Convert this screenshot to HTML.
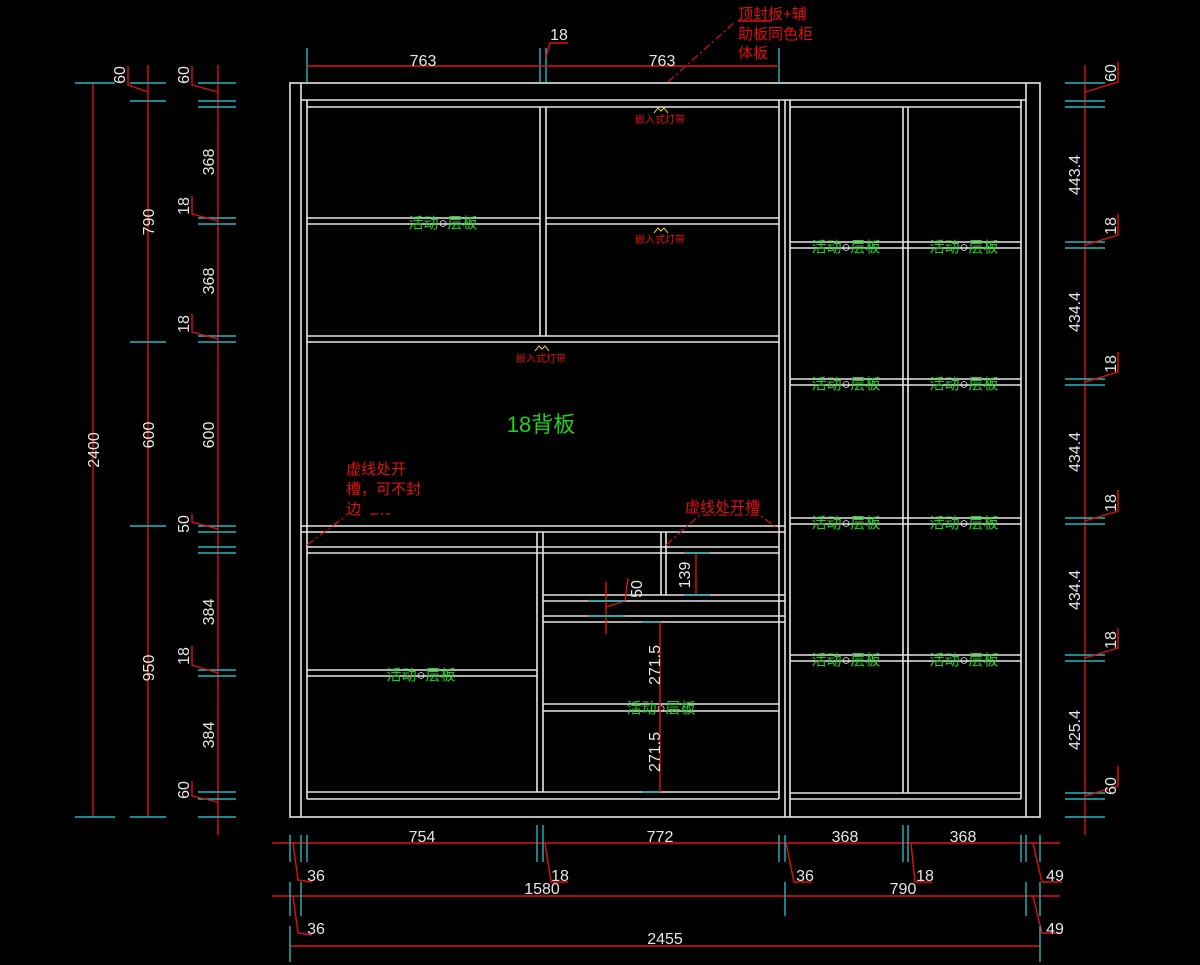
<!DOCTYPE html>
<html><head><meta charset="utf-8"><style>
html,body{margin:0;padding:0;background:#000;width:1200px;height:965px;overflow:hidden}
svg{display:block}
.c{stroke:#e6e6e6;stroke-width:1.6;fill:none}
.r{stroke:#e01010;stroke-width:1.4;fill:none}
.cy{stroke:#20b8c0;stroke-width:1.4}
.d{stroke:#e01010;stroke-width:1.2;stroke-dasharray:8 3 2 3;fill:none}
text{font-family:"Liberation Sans","Noto Sans CJK SC",sans-serif}
.t{fill:#e6e6e6;font-size:16px}
.g{fill:#20d020;font-size:15px}
.rd{fill:#e01010;font-size:15px}
.sm{fill:#e01010;font-size:10px}
</style></head><body>
<svg width="1200" height="965" viewBox="0 0 1200 965" xmlns="http://www.w3.org/2000/svg">
<!-- cabinet -->
<g class="c">
<rect x="290" y="83" width="750" height="734"/>
<line x1="301" y1="83" x2="301" y2="817"/>
<line x1="1026" y1="83" x2="1026" y2="817"/>
<line x1="301" y1="100" x2="1026" y2="100"/>
<line x1="307" y1="107" x2="779" y2="107"/>
<line x1="790" y1="107" x2="1021" y2="107"/>
<line x1="307" y1="100" x2="307" y2="799"/>
<line x1="779" y1="100" x2="779" y2="799"/>
<line x1="785" y1="100" x2="785" y2="817"/>
<line x1="790" y1="100" x2="790" y2="817"/>
<line x1="1021" y1="100" x2="1021" y2="799"/>
<line x1="540" y1="107" x2="540" y2="336"/>
<line x1="546" y1="107" x2="546" y2="336"/>
<line x1="903" y1="107" x2="903" y2="793"/>
<line x1="908" y1="107" x2="908" y2="793"/>
<line x1="307" y1="218" x2="540" y2="218"/><line x1="307" y1="224" x2="540" y2="224"/>
<line x1="546" y1="218" x2="779" y2="218"/><line x1="546" y1="224" x2="779" y2="224"/>
<line x1="307" y1="336" x2="779" y2="336"/><line x1="307" y1="342" x2="779" y2="342"/>
<line x1="301" y1="526" x2="785" y2="526"/><line x1="301" y1="532" x2="785" y2="532"/>
<line x1="307" y1="547" x2="779" y2="547"/><line x1="307" y1="553" x2="779" y2="553"/>
<line x1="537" y1="532" x2="537" y2="792"/><line x1="543" y1="532" x2="543" y2="792"/>
<line x1="661" y1="532" x2="661" y2="595"/><line x1="666" y1="532" x2="666" y2="595"/>
<line x1="543" y1="595" x2="785" y2="595"/><line x1="543" y1="601" x2="785" y2="601"/>
<line x1="543" y1="616" x2="785" y2="616"/><line x1="543" y1="622" x2="785" y2="622"/>
<line x1="307" y1="670" x2="537" y2="670"/><line x1="307" y1="676" x2="537" y2="676"/>
<line x1="543" y1="704" x2="779" y2="704"/><line x1="543" y1="711" x2="779" y2="711"/>
<line x1="307" y1="792" x2="779" y2="792"/><line x1="307" y1="799" x2="779" y2="799"/>
<line x1="790" y1="793" x2="1021" y2="793"/><line x1="790" y1="799" x2="1021" y2="799"/>
<line x1="790" y1="242" x2="1021" y2="242"/><line x1="790" y1="248" x2="1021" y2="248"/>
<line x1="790" y1="379" x2="1021" y2="379"/><line x1="790" y1="385" x2="1021" y2="385"/>
<line x1="790" y1="518" x2="1021" y2="518"/><line x1="790" y1="524" x2="1021" y2="524"/>
<line x1="790" y1="655" x2="1021" y2="655"/><line x1="790" y1="661" x2="1021" y2="661"/>
</g>
<!-- labels inside -->
<g class="g">
<text x="443" y="228" text-anchor="middle">活动<tspan fill="#fff">○</tspan>层板</text>
<text x="846" y="252" text-anchor="middle">活动<tspan fill="#fff">○</tspan>层板</text>
<text x="964" y="252" text-anchor="middle">活动<tspan fill="#fff">○</tspan>层板</text>
<text x="846" y="389" text-anchor="middle">活动<tspan fill="#fff">○</tspan>层板</text>
<text x="964" y="389" text-anchor="middle">活动<tspan fill="#fff">○</tspan>层板</text>
<text x="846" y="528" text-anchor="middle">活动<tspan fill="#fff">○</tspan>层板</text>
<text x="964" y="528" text-anchor="middle">活动<tspan fill="#fff">○</tspan>层板</text>
<text x="846" y="665" text-anchor="middle">活动<tspan fill="#fff">○</tspan>层板</text>
<text x="964" y="665" text-anchor="middle">活动<tspan fill="#fff">○</tspan>层板</text>
<text x="421" y="680" text-anchor="middle">活动<tspan fill="#fff">○</tspan>层板</text>
<text x="661" y="713" text-anchor="middle">活动<tspan fill="#fff">○</tspan>层板</text>
<text x="541" y="432" text-anchor="middle" font-size="22">18背板</text>
</g>
<g class="sm" text-anchor="middle">
<text x="660" y="123">嵌入式灯带</text>
<text x="660" y="243">嵌入式灯带</text>
<text x="541" y="362">嵌入式灯带</text>
</g>
<g stroke="#f0e020" stroke-width="1" fill="none">
<path d="M654 113 l4-5 l3 3 l3-3 l4 5"/>
<path d="M654 233 l4-5 l3 3 l3-3 l4 5"/>
<path d="M535 351 l4-5 l3 3 l3-3 l4 5"/>
</g>
<!-- red annotations -->
<g class="rd">
<text x="346" y="474">虚线处开</text>
<text x="346" y="494">槽，可不封</text>
<text x="346" y="514">边</text>
<text x="685" y="512">虚线处开槽</text>
<text x="738" y="19">顶封板+辅</text>
<text x="738" y="39">助板同色柜</text>
<text x="738" y="58">体板</text>
</g>
<g class="d">
<path d="M307 545 L346 516 M370 514 L390 514"/>
<path d="M666 545 L700 515 L760 515 L779 530"/>
<path d="M668 82 L735 22"/>
</g>
<line x1="738" y1="21" x2="772" y2="21" class="r"/>
<!-- top dims -->
<g class="cy">
<line x1="307" y1="48" x2="307" y2="82"/><line x1="540" y1="48" x2="540" y2="82"/>
<line x1="546" y1="48" x2="546" y2="82"/><line x1="779" y1="48" x2="779" y2="82"/>
</g>
<line x1="307" y1="66" x2="779" y2="66" class="r"/>
<path d="M546 57 L550 43 L568 43" class="r"/>
<g class="t" text-anchor="middle">
<text x="423" y="66">763</text><text x="662" y="66">763</text><text x="559" y="40">18</text>
</g>
<!-- left dims -->
<g class="r">
<line x1="93" y1="83" x2="93" y2="817"/>
<line x1="148" y1="65" x2="148" y2="817"/>
<line x1="218" y1="65" x2="218" y2="835"/>
</g>
<g class="cy">
<line x1="75" y1="83" x2="115" y2="83"/><line x1="75" y1="817" x2="115" y2="817"/>
<line x1="130" y1="83" x2="166" y2="83"/><line x1="130" y1="101" x2="166" y2="101"/>
<line x1="130" y1="342" x2="166" y2="342"/><line x1="130" y1="526" x2="166" y2="526"/>
<line x1="130" y1="817" x2="166" y2="817"/>
<line x1="198" y1="83" x2="236" y2="83"/><line x1="198" y1="101" x2="236" y2="101"/><line x1="198" y1="107" x2="236" y2="107"/>
<line x1="198" y1="218" x2="236" y2="218"/><line x1="198" y1="224" x2="236" y2="224"/>
<line x1="198" y1="336" x2="236" y2="336"/><line x1="198" y1="342" x2="236" y2="342"/>
<line x1="198" y1="526" x2="236" y2="526"/><line x1="198" y1="532" x2="236" y2="532"/>
<line x1="198" y1="547" x2="236" y2="547"/><line x1="198" y1="553" x2="236" y2="553"/>
<line x1="198" y1="670" x2="236" y2="670"/><line x1="198" y1="676" x2="236" y2="676"/>
<line x1="198" y1="792" x2="236" y2="792"/><line x1="198" y1="799" x2="236" y2="799"/>
<line x1="198" y1="817" x2="236" y2="817"/>
</g>
<g class="r">
<path d="M148 92 L128 85 L128 66"/><path d="M218 92 L192 85 L192 66"/>
<path d="M218 221 L192 214 L192 196"/><path d="M218 339 L192 332 L192 314"/>
<path d="M218 529 L192 522 L192 514"/><path d="M218 673 L192 665 L192 646"/>
<path d="M218 802 L192 796 L192 781"/>
</g>
<g class="t" text-anchor="middle">
<text transform="translate(99,450) rotate(-90)">2400</text>
<text transform="translate(125,75) rotate(-90)">60</text>
<text transform="translate(154,222) rotate(-90)">790</text>
<text transform="translate(154,435) rotate(-90)">600</text>
<text transform="translate(154,668) rotate(-90)">950</text>
<text transform="translate(189,75) rotate(-90)">60</text>
<text transform="translate(214,162) rotate(-90)">368</text>
<text transform="translate(189,206) rotate(-90)">18</text>
<text transform="translate(214,281) rotate(-90)">368</text>
<text transform="translate(189,324) rotate(-90)">18</text>
<text transform="translate(214,435) rotate(-90)">600</text>
<text transform="translate(189,524) rotate(-90)">50</text>
<text transform="translate(214,612) rotate(-90)">384</text>
<text transform="translate(189,656) rotate(-90)">18</text>
<text transform="translate(214,735) rotate(-90)">384</text>
<text transform="translate(189,790) rotate(-90)">60</text>
</g>
<!-- right dims -->
<line x1="1085" y1="65" x2="1085" y2="835" class="r"/>
<g class="cy">
<line x1="1065" y1="83" x2="1105" y2="83"/><line x1="1065" y1="101" x2="1105" y2="101"/><line x1="1065" y1="107" x2="1105" y2="107"/>
<line x1="1065" y1="242" x2="1105" y2="242"/><line x1="1065" y1="248" x2="1105" y2="248"/>
<line x1="1065" y1="379" x2="1105" y2="379"/><line x1="1065" y1="385" x2="1105" y2="385"/>
<line x1="1065" y1="518" x2="1105" y2="518"/><line x1="1065" y1="524" x2="1105" y2="524"/>
<line x1="1065" y1="655" x2="1105" y2="655"/><line x1="1065" y1="661" x2="1105" y2="661"/>
<line x1="1065" y1="793" x2="1105" y2="793"/><line x1="1065" y1="799" x2="1105" y2="799"/><line x1="1065" y1="817" x2="1105" y2="817"/>
</g>
<g class="r">
<path d="M1085 92 L1118 82 L1118 62"/><path d="M1085 245 L1118 235 L1118 214"/>
<path d="M1085 382 L1118 372 L1118 352"/><path d="M1085 521 L1118 511 L1118 490"/>
<path d="M1085 658 L1118 648 L1118 628"/><path d="M1085 796 L1118 786 L1118 766"/>
</g>
<g class="t" text-anchor="middle">
<text transform="translate(1080,175) rotate(-90)">443.4</text>
<text transform="translate(1080,312) rotate(-90)">434.4</text>
<text transform="translate(1080,452) rotate(-90)">434.4</text>
<text transform="translate(1080,590) rotate(-90)">434.4</text>
<text transform="translate(1080,730) rotate(-90)">425.4</text>
<text transform="translate(1116,73) rotate(-90)">60</text>
<text transform="translate(1116,226) rotate(-90)">18</text>
<text transform="translate(1116,364) rotate(-90)">18</text>
<text transform="translate(1116,503) rotate(-90)">18</text>
<text transform="translate(1116,640) rotate(-90)">18</text>
<text transform="translate(1116,786) rotate(-90)">60</text>
</g>
<!-- bottom dims -->
<g class="r">
<line x1="272" y1="843" x2="1060" y2="843"/>
<line x1="272" y1="896" x2="1060" y2="896"/>
<line x1="290" y1="946" x2="1040" y2="946"/>
<path d="M293 843 L298 880 L312 882"/><path d="M545 843 L551 882 L568 882"/>
<path d="M786 843 L794 882 L812 882"/><path d="M911 843 L915 882 L932 882"/>
<path d="M1033 843 L1042 882 L1062 882"/>
<path d="M293 896 L298 933 L312 935"/><path d="M1033 896 L1042 933 L1062 933"/>
</g>
<g class="cy">
<line x1="290" y1="835" x2="290" y2="862"/><line x1="301" y1="835" x2="301" y2="862"/><line x1="307" y1="835" x2="307" y2="862"/>
<line x1="537" y1="825" x2="537" y2="862"/><line x1="543" y1="825" x2="543" y2="862"/>
<line x1="779" y1="835" x2="779" y2="862"/><line x1="785" y1="835" x2="785" y2="862"/>
<line x1="903" y1="825" x2="903" y2="862"/><line x1="908" y1="825" x2="908" y2="862"/>
<line x1="1021" y1="835" x2="1021" y2="862"/><line x1="1026" y1="835" x2="1026" y2="862"/><line x1="1040" y1="835" x2="1040" y2="862"/>
<line x1="290" y1="882" x2="290" y2="916"/><line x1="301" y1="882" x2="301" y2="916"/>
<line x1="785" y1="882" x2="785" y2="916"/>
<line x1="1026" y1="882" x2="1026" y2="916"/><line x1="1040" y1="882" x2="1040" y2="916"/>
<line x1="290" y1="926" x2="290" y2="962"/><line x1="1040" y1="926" x2="1040" y2="962"/>
</g>
<g class="t" text-anchor="middle">
<text x="422" y="842">754</text><text x="660" y="842">772</text>
<text x="845" y="842">368</text><text x="963" y="842">368</text>
<text x="316" y="881">36</text><text x="560" y="881">18</text><text x="805" y="881">36</text>
<text x="925" y="881">18</text><text x="1055" y="881">49</text>
<text x="542" y="894">1580</text><text x="903" y="894">790</text>
<text x="316" y="934">36</text><text x="1055" y="934">49</text>
<text x="665" y="944">2455</text>
</g>
<!-- inner dims -->
<g class="r">
<line x1="606" y1="582" x2="606" y2="634"/>
<path d="M606 607 L625 601 L628 578"/>
<line x1="696" y1="553" x2="696" y2="595"/>
<line x1="660" y1="622" x2="660" y2="792"/>
</g>
<g class="cy">
<line x1="588" y1="601" x2="625" y2="601"/><line x1="588" y1="616" x2="625" y2="616"/>
<line x1="684" y1="553" x2="710" y2="553"/><line x1="684" y1="595" x2="710" y2="595"/>
<line x1="642" y1="622" x2="660" y2="622"/><line x1="642" y1="792" x2="660" y2="792"/>
</g>
<g class="t" text-anchor="middle">
<text transform="translate(642,589) rotate(-90)">50</text>
<text transform="translate(690,575) rotate(-90)">139</text>
<text transform="translate(660,665) rotate(-90)">271.5</text>
<text transform="translate(660,752) rotate(-90)">271.5</text>
</g>
</svg>
</body></html>
